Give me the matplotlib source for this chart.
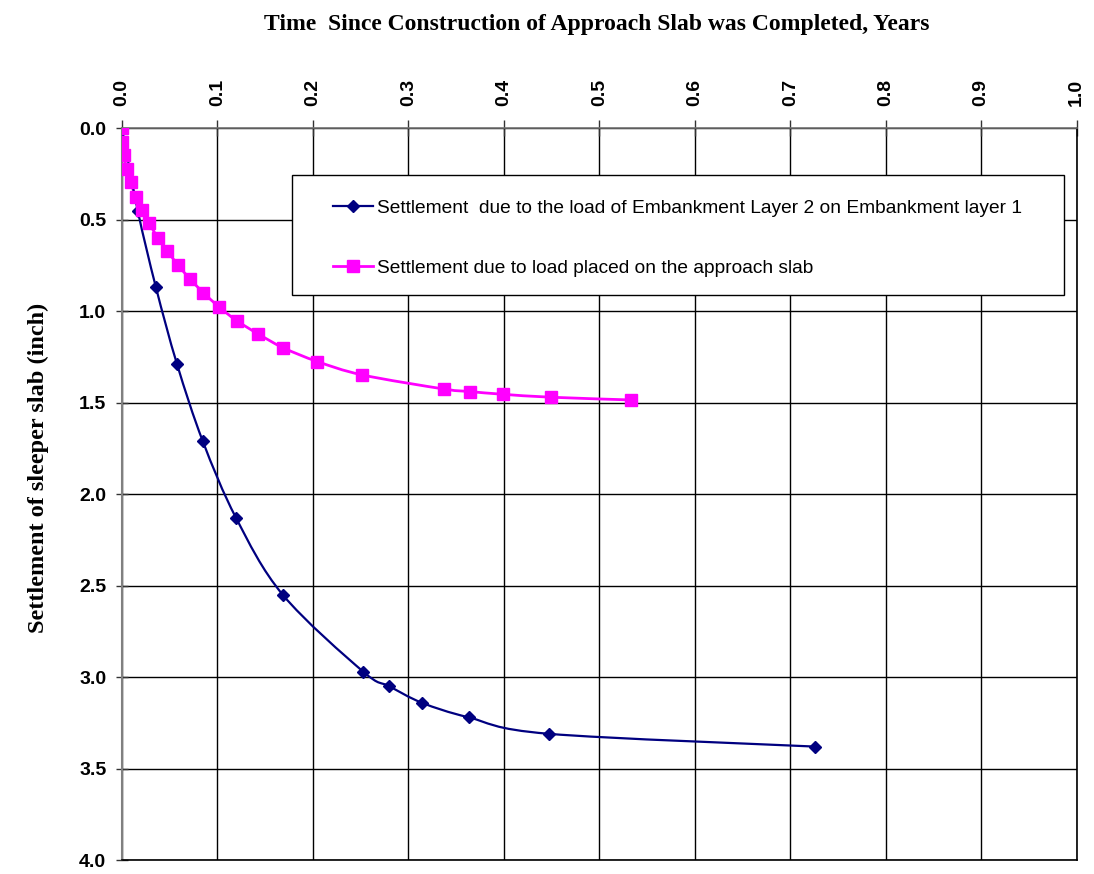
import numpy as np
import matplotlib
matplotlib.use('Agg')
import matplotlib.pyplot as plt
from matplotlib.path import Path
from matplotlib.patches import PathPatch, Rectangle

# data
t_layer2 = [0.0, 0.0165, 0.0356, 0.0577, 0.0846, 0.1195, 0.1684, 0.2526, 0.280, 0.314, 0.363, 0.447, 0.7264]
s_layer2 = [0.0, 0.45, 0.87, 1.29, 1.71, 2.13, 2.55, 2.97, 3.05, 3.14, 3.22, 3.31, 3.38]

t_slab = [0.0, 0.0, 0.002, 0.0049, 0.0091, 0.0143, 0.0206, 0.0286, 0.0374, 0.0475, 0.0587,
          0.0713, 0.0852, 0.1013, 0.120, 0.1426, 0.169, 0.2047, 0.2516, 0.337, 0.364, 0.399, 0.449, 0.533]
s_slab = [0.0, 0.073, 0.146, 0.222, 0.295, 0.374, 0.446, 0.519, 0.598, 0.671, 0.747,
          0.824, 0.898, 0.975, 1.051, 1.124, 1.20, 1.275, 1.348, 1.425, 1.439, 1.454, 1.470, 1.485]

label_layer2 = 'Settlement  due to the load of Embankment Layer 2 on Embankment layer 1'
label_slab = 'Settlement due to load placed on the approach slab'

x_ticks = np.arange(0, 1.01, 0.1)
y_ticks = np.arange(0, 4.01, 0.5)


def smooth_path(x, y):
    # Excel style smoothed line: cubic bezier through the points
    p = np.column_stack([x, y]).astype(float)
    n = len(p)
    verts = [p[0]]
    codes = [Path.MOVETO]
    for i in range(n - 1):
        p0 = p[i - 1] if i > 0 else p[i]
        p3 = p[i + 2] if i + 2 < n else p[i + 1]
        c1 = p[i] + (p[i + 1] - p0) / 6.0
        c2 = p[i + 1] - (p3 - p[i]) / 6.0
        verts += [c1, c2, p[i + 1]]
        codes += [Path.CURVE4] * 3
    return Path(verts, codes)


fig = plt.figure(figsize=(10.94, 8.74), dpi=100)
ax = fig.add_axes([0.1115, 0.016, 0.8727, 0.8372])

ax.set_xlim(0, 1.0)
ax.set_ylim(4.0, 0.0)
ax.xaxis.tick_top()
ax.set_xticks(x_ticks)
ax.set_yticks(y_ticks)
ax.set_xticklabels(['%.1f' % v for v in x_ticks], rotation=90, fontsize=14,
                   fontweight='bold', family='Liberation Sans')
ax.set_yticklabels(['%.1f' % v for v in y_ticks], fontsize=14,
                   fontweight='bold', family='Liberation Sans')
ax.tick_params(axis='x', direction='inout', length=11.5, width=1, color='#333333', pad=10)
ax.tick_params(axis='y', direction='inout', length=8.5, width=1, color='#333333', pad=7)
ax.grid(True, color='black', linewidth=1)
ax.set_axisbelow(True)
ax.spines['top'].set_color('#707070')
ax.spines['top'].set_linewidth(1.2)
ax.spines['left'].set_color('#808080')
ax.spines['left'].set_linewidth(1.5)
ax.spines['right'].set_color('black')
ax.spines['right'].set_linewidth(1.2)
ax.spines['bottom'].set_color('black')
ax.spines['bottom'].set_linewidth(1.2)

# smoothed lines
ax.add_patch(PathPatch(smooth_path(t_slab, s_slab), facecolor='none',
                       edgecolor='#FF00FF', linewidth=2, zorder=3))
ax.add_patch(PathPatch(smooth_path(t_layer2, s_layer2), facecolor='none',
                       edgecolor='#000080', linewidth=1.6, zorder=3))

# markers
ax.plot(t_layer2[1:], s_layer2[1:], linestyle='none', marker='D', markersize=6.5,
        color='#000080', zorder=4)
ax.plot(t_slab, s_slab, linestyle='none', marker='s', markersize=9,
        color='#FF00FF', zorder=5)

# legend box and entries
ax.add_patch(Rectangle((0.1784, 0.772), 0.8083, 0.164, transform=ax.transAxes,
                       facecolor='white', edgecolor='black', linewidth=1, zorder=6))
h1, = ax.plot([], [], color='#000080', marker='D', markersize=6.5, linewidth=1.6, label=label_layer2)
h2, = ax.plot([], [], color='#FF00FF', marker='s', markersize=9, linewidth=2, label=label_slab)
leg = ax.legend(handles=[h1, h2], loc='center left', bbox_to_anchor=(0.221, 0.850),
                prop={'family': 'Liberation Sans', 'size': 13.8}, frameon=False,
                borderpad=0, labelspacing=2.2, handlelength=2.1, handletextpad=0.2,
                borderaxespad=0)
leg.set_zorder(7)

fig.text(0.5457, 0.972, 'Time  Since Construction of Approach Slab was Completed, Years',
         ha='center', va='center', fontsize=17, fontweight='bold', family='Liberation Serif')
fig.text(0.035, 0.465, 'Settlement of sleeper slab (inch)', ha='center', va='center',
         rotation=90, fontsize=17.5, fontweight='bold', family='Liberation Serif')

fig.savefig('out.png', dpi=100)
